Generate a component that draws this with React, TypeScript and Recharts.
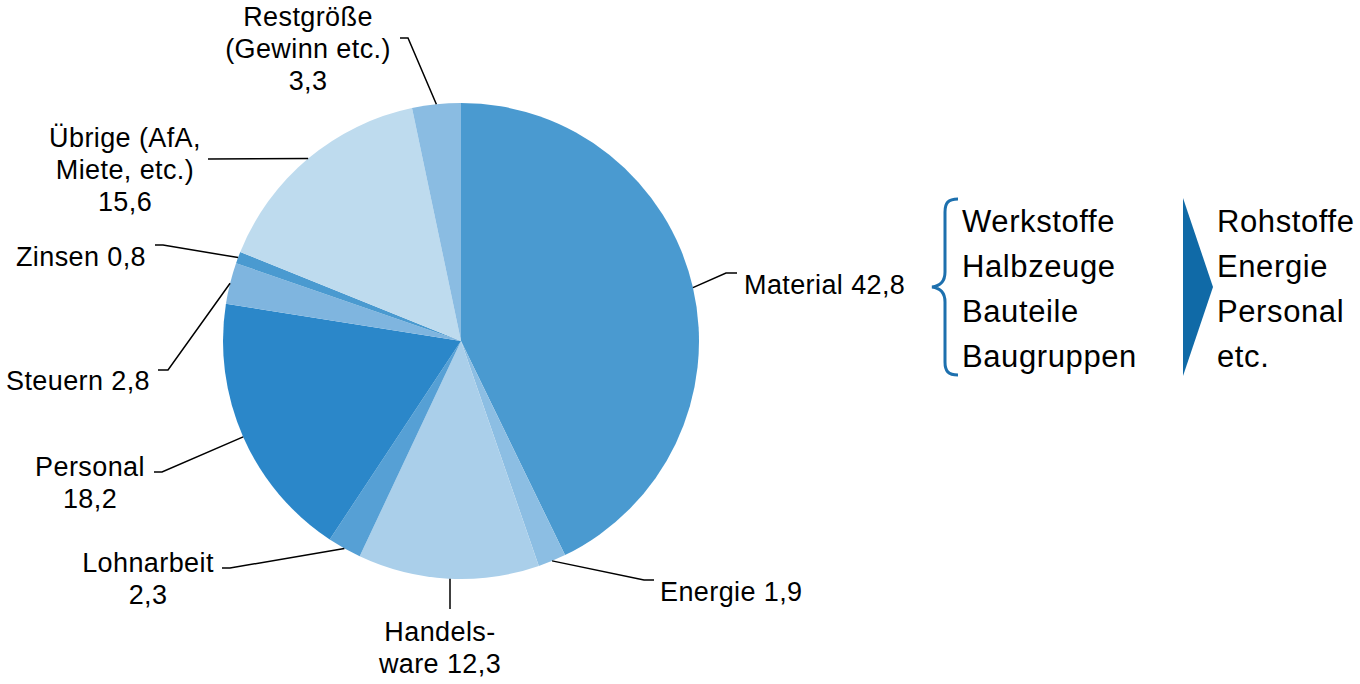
import React from 'react';
import { PieChart, Pie, Cell } from 'recharts';

// Kostenstruktur (Anteile in %)
const categories = ['Material', 'Energie', 'Handelsware', 'Lohnarbeit', 'Personal', 'Steuern', 'Zinsen', 'Übrige', 'Restgröße'];
const shares = [42.8, 1.9, 12.3, 2.3, 18.2, 2.8, 0.8, 15.6, 3.3];
const labelNames = [
    ['Material'],
    ['Energie'],
    ['Handels-', 'ware'],
    ['Lohnarbeit'],
    ['Personal'],
    ['Steuern'],
    ['Zinsen'],
    ['Übrige (AfA,', 'Miete, etc.)'],
    ['Restgröße', '(Gewinn etc.)'],
];
const valueInline = [true, true, true, false, false, true, true, false, false];

const materialItems = ['Werkstoffe', 'Halbzeuge', 'Bauteile', 'Baugruppen'];
const sourceItems = ['Rohstoffe', 'Energie', 'Personal', 'etc.'];

const COLORS = ['#4a9ad0', '#8cbee3', '#aacfea', '#56a0d5', '#2b87c9', '#7fb5df', '#4a9ad0', '#bedbee', '#8abce2'];

// leader line bends + text placement for each slice label
const LABEL_LAYOUT = [
    { pts: [[726, 273], [737, 273]], anchor: 'start', x: 744, y: 285 },
    { pts: [[644, 580], [654, 580]], anchor: 'start', x: 660, y: 592 },
    { pts: [[450, 609]], anchor: 'middle', x: 440, y: 632, vertical: true },
    { pts: [[230, 568], [222, 568]], anchor: 'middle', x: 148, y: 563 },
    { pts: [[162, 472], [154, 472]], anchor: 'middle', x: 90, y: 467 },
    { pts: [[168, 370], [158, 370]], anchor: 'end', x: 150, y: 381 },
    { pts: [[163, 245], [155, 245]], anchor: 'end', x: 146, y: 257 },
    { pts: [[208, 159]], anchor: 'middle', x: 125, y: 138 },
    { pts: [[408, 38], [400, 38]], anchor: 'middle', x: 308, y: 17 },
];

const FONT = '"Liberation Sans", Arial, sans-serif';
const RADIAN = Math.PI / 180;

const fmt = (v: number) => v.toFixed(1).replace('.', ',');

const renderLabel = (props: any) => {
    const { cx, cy, midAngle, outerRadius, index, value } = props;
    const layout = LABEL_LAYOUT[index];
    let sx = cx + outerRadius * Math.cos(-midAngle * RADIAN);
    const sy = cy + outerRadius * Math.sin(-midAngle * RADIAN);
    if (layout.vertical) sx = layout.pts[0][0];
    const points = [[sx, sy], ...layout.pts].map((p) => p.join(',')).join(' ');

    const names = labelNames[index];
    const lines = valueInline[index]
        ? [...names.slice(0, -1), `${names[names.length - 1]} ${fmt(value)}`]
        : [...names, fmt(value)];

    return (
        <g key={`label-${index}`}>
            <polyline points={points} fill="none" stroke="#000" strokeWidth={1.5} />
            <text
                x={layout.x}
                y={layout.y}
                textAnchor={layout.anchor as any}
                fontFamily={FONT}
                fontSize={27}
                letterSpacing={0.4}
                fill="#000"
            >
                {lines.map((line, i) => (
                    <tspan key={i} x={layout.x} y={layout.y + i * 32} dominantBaseline="central">
                        {line}
                    </tspan>
                ))}
            </text>
        </g>
    );
};

const SidePanel: React.FC = () => (
    <svg width={1360} height={684} style={{ position: 'absolute', left: 0, top: 0, pointerEvents: 'none' }}>
        {/* geschweifte Klammer */}
        <path
            d="M958,199 C948,199 945,203 945,212 L945,272 C945,281 940,286 932,287 C940,288 945,293 945,302 L945,362 C945,371 948,375 958,375"
            fill="none"
            stroke="#1d70ae"
            strokeWidth={3}
        />
        {materialItems.map((t, i) => (
            <text key={t} x={962} y={221 + i * 45.3} dominantBaseline="central" fontFamily={FONT} fontSize={31} letterSpacing={0.6} fill="#000">
                {t}
            </text>
        ))}
        {/* Pfeil */}
        <path d="M1183,198 L1213,287 L1183,376 Z" fill="#106aa7" />
        {sourceItems.map((t, i) => (
            <text key={t} x={1217} y={221 + i * 45.3} dominantBaseline="central" fontFamily={FONT} fontSize={31} letterSpacing={0.6} fill="#000">
                {t}
            </text>
        ))}
    </svg>
);

const App: React.FC = () => {
    const chartData = categories.map((name, i) => ({ name, value: shares[i] }));

    return (
        <div style={{ position: 'absolute', left: 0, top: 0, width: 1360, height: 684, background: '#fff' }}>
            <PieChart width={1360} height={684} margin={{ top: 0, right: 0, bottom: 0, left: 0 }}>
                <Pie
                    data={chartData}
                    dataKey="value"
                    nameKey="name"
                    cx={461}
                    cy={341}
                    outerRadius={238}
                    startAngle={90}
                    endAngle={-270}
                    stroke="none"
                    label={renderLabel}
                    labelLine={false}
                    isAnimationActive={false}
                >
                    {chartData.map((_entry, index) => (
                        <Cell key={`cell-${index}`} fill={COLORS[index % COLORS.length]} />
                    ))}
                </Pie>
            </PieChart>
            <SidePanel />
        </div>
    );
};

export default App;
